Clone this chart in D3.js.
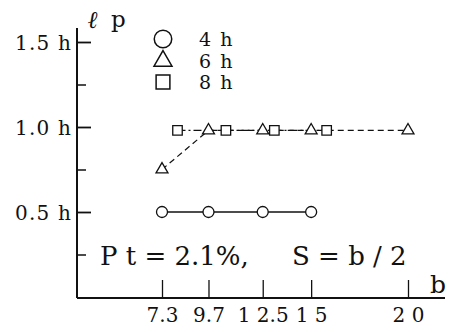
<!DOCTYPE html>
<html>
<head>
<meta charset="utf-8">
<script src="https://cdn.jsdelivr.net/npm/d3@7/dist/d3.min.js"></script>
<style>
  html, body { margin: 0; padding: 0; background: #fff; }
  svg text { font-family: "DejaVu Serif", "Liberation Serif", serif; fill: #111; }
</style>
</head>
<body>
<svg id="chart" width="455" height="332"></svg>
<script>
// Anchorage length ℓp (in units of h) against bar spacing b, per height series
const bTicks = [7.3, 9.7, 12.5, 15, 20];
const bTickLabels = ["7.3", "9.7", "1 2.5", "1 5", "2 0"];
const lpMajor = [0.5, 1.0, 1.5];
const lpMajorLabels = ["0.5 h", "1.0 h", "1.5 h"];
const lpMinor = [0.25, 0.75, 1.25];

const series4hB = [7.3, 9.7, 12.5, 15];
const series4hLp = [0.5, 0.5, 0.5, 0.5];
const series6hB = [7.3, 9.7, 12.5, 15, 20];
const series6hLp = [0.75, 0.98, 0.98, 0.98, 0.98];
const series8hB = [8.1, 10.6, 13.1, 15.8];
const series8hLp = [0.98, 0.98, 0.98, 0.98];

const legendLabels = ["4 h", "6 h", "8 h"];

const svg = d3.select("#chart");
const ink = "#111";

// layout
const axisX0 = 77, axisX1 = 445, axisY0 = 28, axisY1 = 298;

const x = d3.scaleLinear().domain([7.3, 20]).range([162, 408]);
const y = d3.scaleLinear().domain([0, 1.5]).range([297, 42]);

// axis lines
svg.append("line").attr("x1", axisX0).attr("x2", axisX0).attr("y1", axisY0).attr("y2", axisY1)
  .attr("stroke", ink).attr("stroke-width", 2);
svg.append("line").attr("x1", axisX0).attr("x2", axisX1).attr("y1", axisY1).attr("y2", axisY1)
  .attr("stroke", ink).attr("stroke-width", 2);

// y axis: major ticks with labels, minor ticks without
const yMajor = svg.append("g").attr("transform", `translate(${axisX0},0)`)
  .call(d3.axisLeft(y).tickValues(lpMajor).tickSize(-14).tickPadding(5)
    .tickFormat((d, i) => lpMajorLabels[i]));
yMajor.select(".domain").remove();
yMajor.selectAll(".tick line").attr("stroke", ink).attr("stroke-width", 1.8);
yMajor.selectAll(".tick text").attr("font-size", 20).attr("letter-spacing", 1.2)
  .attr("fill", ink).attr("dy", "0.35em");

const yMinor = svg.append("g").attr("transform", `translate(${axisX0},0)`)
  .call(d3.axisLeft(y).tickValues(lpMinor).tickSize(-9).tickFormat(""));
yMinor.select(".domain").remove();
yMinor.selectAll(".tick line").attr("stroke", ink).attr("stroke-width", 1.5);

// x axis: ticks point up into the plot
const xAxis = svg.append("g").attr("transform", `translate(0,${axisY1})`)
  .call(d3.axisBottom(x).tickValues(bTicks).tickSize(-18).tickPadding(9)
    .tickFormat((d, i) => bTickLabels[i]));
xAxis.select(".domain").remove();
xAxis.selectAll(".tick line").attr("stroke", ink).attr("stroke-width", 1.3);
xAxis.selectAll(".tick text").attr("font-size", 20).attr("fill", ink).attr("dy", "0.75em");

// axis titles
svg.append("text").attr("x", 88).attr("y", 28).attr("font-size", 24)
  .attr("font-style", "italic").attr("font-weight", "bold").text("ℓ");
svg.append("text").attr("x", 111).attr("y", 27).attr("font-size", 23).text("p");
svg.append("text").attr("x", 430).attr("y", 293).attr("font-size", 25).text("b");

// annotation
svg.append("text").attr("x", 100).attr("y", 265).attr("font-size", 26)
  .text("P t = 2.1%,");
svg.append("text").attr("x", 292).attr("y", 265).attr("font-size", 26)
  .text("S = b ∕ 2");

// series
const zip = (bs, ls) => bs.map((b, i) => ({ b, lp: ls[i] }));
const d4 = zip(series4hB, series4hLp);
const d6 = zip(series6hB, series6hLp);
const d8 = zip(series8hB, series8hLp);

const line = d3.line().x(d => x(d.b)).y(d => y(d.lp));

svg.append("path").datum(d4).attr("d", line).attr("fill", "none")
  .attr("stroke", ink).attr("stroke-width", 1.3);
svg.append("path").datum(d6).attr("d", line).attr("fill", "none")
  .attr("stroke", ink).attr("stroke-width", 1.2).attr("stroke-dasharray", "6,4");
svg.append("path").datum(d8).attr("d", line).attr("fill", "none")
  .attr("stroke", ink).attr("stroke-width", 1.2).attr("stroke-dasharray", "8,3,2,3");

const sym = (type, size) => d3.symbol().type(type).size(size)();

function markers(data, type, size) {
  svg.append("g").selectAll("path").data(data).join("path")
    .attr("transform", d => `translate(${x(d.b)},${y(d.lp)})`)
    .attr("d", sym(type, size))
    .attr("fill", "#fff").attr("stroke", ink).attr("stroke-width", 1.3);
}
markers(d4, d3.symbolCircle, 95);
markers(d6, d3.symbolTriangle, 62);
markers(d8, d3.symbolSquare, 90);

// legend
const legendTypes = [[d3.symbolCircle, 240], [d3.symbolTriangle, 140], [d3.symbolSquare, 190]];
const legendY = [39, 61, 82];
legendLabels.forEach((lab, i) => {
  svg.append("path").attr("transform", `translate(163,${legendY[i]})`)
    .attr("d", sym(legendTypes[i][0], legendTypes[i][1]))
    .attr("fill", "#fff").attr("stroke", ink).attr("stroke-width", 1.5);
  svg.append("text").attr("x", 199).attr("y", legendY[i] + 7).attr("font-size", 19)
    .attr("letter-spacing", 1.5).text(lab);
});
</script>
</body>
</html>
